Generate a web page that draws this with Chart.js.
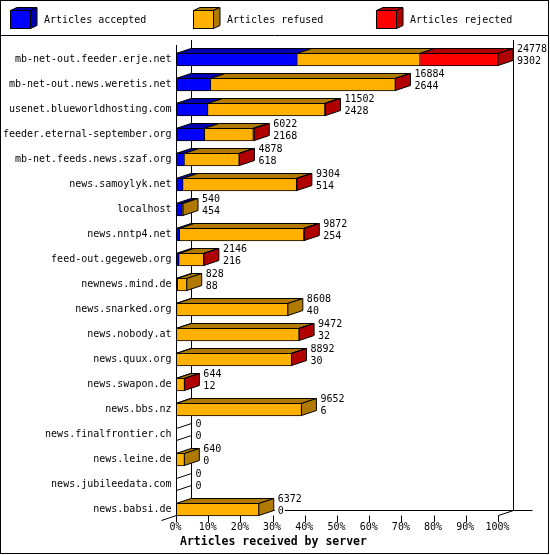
<!DOCTYPE html>
<html><head><meta charset="utf-8">
<script src="https://cdn.jsdelivr.net/npm/chart.js@4.4.1/dist/chart.umd.min.js"></script>
<style>html,body{margin:0;padding:0;background:#fff}#wrap{width:550px;height:555px;position:relative}</style>
</head><body><div id="wrap"><canvas id="c"></canvas></div>
<script>
// ---- data ----
const servers = ['mb-net-out.feeder.erje.net','mb-net-out.news.weretis.net','usenet.blueworldhosting.com',
  'feeder.eternal-september.org','mb-net.feeds.news.szaf.org','news.samoylyk.net','localhost','news.nntp4.net',
  'feed-out.gegeweb.org','newnews.mind.de','news.snarked.org','news.nobody.at','news.quux.org','news.swapon.de',
  'news.bbs.nz','news.finalfrontier.ch','news.leine.de','news.jubileedata.com','news.babsi.de'];
const offered  = [24778,16884,11502,6022,4878,9304,540,9872,2146,828,8608,9472,8892,644,9652,0,640,0,6372];
const accepted = [9302,2644,2428,2168,618,514,454,254,216,88,40,32,30,12,6,0,0,0,0];
const refused  = [9447,14202,8994,3744,4210,8730,86,9558,1890,740,8568,9420,8832,622,9646,0,640,0,6372];
const rejected = [6029,38,80,110,50,60,0,60,40,0,0,20,30,10,0,0,0,0,0];
const seriesNames = ['Articles accepted','Articles refused','Articles rejected'];
const frontColors = ['#0000FF','#FFB000','#FF0000'];
const darkColors  = ['#0000B0','#B07900','#B00000'];
const xTickLabels = ['0%','10%','20%','30%','40%','50%','60%','70%','80%','90%','100%'];
const xTitle = 'Articles received by server';

const maxOffered = Math.max(...offered);
const pct = arr => arr.map(v => v / maxOffered * 100);
const seriesValues = [accepted, refused, rejected];

const DX = 15, DY = 5;
const MONO = '"DejaVu Sans Mono", monospace';

function poly(ctx, pts, fill) {
  ctx.beginPath();
  ctx.moveTo(pts[0][0], pts[0][1]);
  for (let i = 1; i < pts.length; i++) ctx.lineTo(pts[i][0], pts[i][1]);
  ctx.closePath();
  if (fill) { ctx.fillStyle = fill; ctx.fill(); }
  ctx.stroke();
}
function seg(ctx, x1, y1, x2, y2) {
  ctx.beginPath(); ctx.moveTo(x1, y1); ctx.lineTo(x2, y2); ctx.stroke();
}
function floorOf(chart) {
  const meta = chart.getDatasetMeta(0);
  const el = meta.data[meta.data.length - 1];
  return Math.round(el.y + el.height / 2) - 0.5;
}

const threeD = {
  id: 'threeD',
  beforeDraw(chart) {
    const ctx = chart.ctx;
    ctx.save();
    ctx.fillStyle = '#fff';
    ctx.fillRect(0, 0, chart.width, chart.height);
    ctx.restore();
  },
  beforeDatasetsDraw(chart) {
    const { ctx, chartArea: ca } = chart;
    const fy = floorOf(chart);
    ctx.save();
    ctx.strokeStyle = '#000'; ctx.lineWidth = 1;
    const bl = ca.left + DX, br = ca.right + DX;
    seg(ctx, bl, 40, bl, fy - DY);          // back left wall
    seg(ctx, br, 40, br, fy - DY);          // back right wall
    seg(ctx, bl, fy - DY, br + 19, fy - DY); // back floor
    seg(ctx, ca.left - DX, fy + DY, bl, fy - DY); // left floor edge
    seg(ctx, ca.right, fy, br, fy - DY);     // right floor edge
    ctx.restore();
  },
  afterDatasetsDraw(chart) {
    const { ctx, chartArea: ca, scales: { x } } = chart;
    const fy = floorOf(chart);
    ctx.save();
    ctx.strokeStyle = '#000'; ctx.lineWidth = 1;
    const metas = [0, 1, 2].map(i => chart.getDatasetMeta(i));
    const n = servers.length;
    for (let r = 0; r < n; r++) {
      let last = -1, lastEl = null;
      for (let s = 0; s < 3; s++) {
        const el = metas[s].data[r];
        const p = el.getProps(['x', 'base', 'y', 'height'], true);
        const yt = p.y - p.height / 2 + 0.5;
        if (seriesValues[s][r] > 0) {
          const x0 = Math.min(p.base, p.x) - 0.5, x1 = Math.max(p.base, p.x) - 0.5;
          poly(ctx, [[x0, yt], [x1, yt], [x1 + DX, yt - DY], [x0 + DX, yt - DY]], darkColors[s]);
          last = s;
        }
        if (!lastEl) lastEl = p;
      }
      const p0 = metas[0].data[r].getProps(['x', 'base', 'y', 'height'], true);
      const yt = p0.y - p0.height / 2 + 0.5, yb = p0.y + p0.height / 2 - 0.5;
      let xe;
      if (last >= 0) {
        const pe = metas[last].data[r].getProps(['x'], true);
        xe = pe.x - 0.5;
      } else {
        xe = ca.left;
      }
      poly(ctx, [[xe, yt], [xe + DX, yt - DY], [xe + DX, yb - DY], [xe, yb]], last >= 0 ? darkColors[last] : null);
      // value labels
      const lx = xe + DX + 4;
      ctx.font = '10px ' + MONO;
      ctx.textBaseline = 'middle';
      ctx.textAlign = 'left';
      const t1 = String(offered[r]), t2 = String(accepted[r]);
      const w1 = ctx.measureText(t1).width, w2 = ctx.measureText(t2).width;
      ctx.fillStyle = '#fff';
      ctx.fillRect(xe + DX + 1, p0.y - 15, w1 + 4, 10);
      ctx.fillRect(xe + DX + 1, p0.y - 3, w2 + 4, 10);
      ctx.fillStyle = '#000';
      ctx.fillText(t1, lx, p0.y - 10);
      ctx.fillText(t2, lx, p0.y + 2);
    }
    // front left axis
    seg(ctx, ca.left, 45, ca.left, fy + DY);
    // tick marks
    x.ticks.forEach(t => {
      const px = Math.round(x.getPixelForValue(t.value) - 0.5) + 0.5;
      seg(ctx, px, fy, px, fy + 6.5);
    });
    ctx.restore();
  },
  afterDraw(chart) {
    const ctx = chart.ctx;
    ctx.save();
    ctx.strokeStyle = '#000'; ctx.lineWidth = 1;
    ctx.strokeRect(0.5, 0.5, 548, 553);
    seg(ctx, 0, 35.5, 549, 35.5);
    // legend
    ctx.font = '10px ' + MONO;
    ctx.textBaseline = 'middle';
    ctx.textAlign = 'left';
    chart.data.datasets.forEach((ds, i) => {
      const x0 = 10.5 + 183 * i, y0 = 10.5, w = 20, h = 18, dx = 6.5, dy = 3;
      ctx.fillStyle = ds.backgroundColor;
      ctx.fillRect(x0, y0, w, h);
      ctx.strokeRect(x0, y0, w, h);
      poly(ctx, [[x0, y0], [x0 + w, y0], [x0 + w + dx, y0 - dy], [x0 + dx, y0 - dy]], darkColors[i]);
      poly(ctx, [[x0 + w, y0], [x0 + w + dx, y0 - dy], [x0 + w + dx, y0 + h - dy], [x0 + w, y0 + h]], darkColors[i]);
      ctx.fillStyle = '#000';
      ctx.fillText(ds.label, x0 + 33.5, 20);
    });
    // x title
    ctx.font = 'bold 11.5px ' + MONO;
    ctx.fillText(xTitle, 180, 542);
    ctx.restore();
  }
};

new Chart(document.getElementById('c'), {
  type: 'bar',
  data: {
    labels: servers,
    datasets: seriesNames.map((name, i) => ({
      label: name,
      data: pct(seriesValues[i]),
      backgroundColor: frontColors[i],
      borderColor: '#000',
      borderWidth: 1,
      borderSkipped: 'start',
      barThickness: 13
    }))
  },
  options: {
    indexAxis: 'y',
    responsive: true,
    maintainAspectRatio: false,
    animation: false,
    devicePixelRatio: 1,
    layout: { padding: { top: 47, right: 51.5, bottom: 0, left: 0 } },
    plugins: { legend: { display: false }, tooltip: { enabled: false } },
    scales: {
      x: {
        type: 'linear', stacked: true, min: 0, max: 100,
        grid: { display: false, drawTicks: false },
        border: { display: false },
        ticks: {
          stepSize: 10, padding: -1, color: '#000', labelOffset: -1,
          font: { family: 'DejaVu Sans Mono', size: 10 },
          callback: (v, i) => xTickLabels[i]
        },
        afterFit: s => { s.height = 33; }
      },
      y: {
        type: 'category', stacked: true,
        grid: { display: false, drawTicks: false },
        border: { display: false },
        ticks: {
          autoSkip: false, padding: 5, color: '#000',
          font: { family: 'DejaVu Sans Mono', size: 10 }
        },
        afterFit: s => { s.width = 176.5; }
      }
    }
  },
  plugins: [threeD]
});
</script></body></html>
